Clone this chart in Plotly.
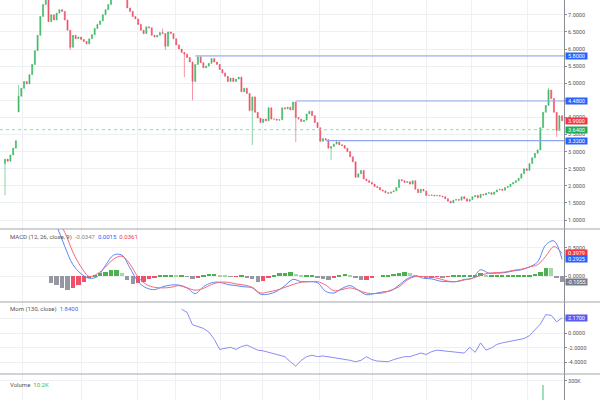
import plotly.graph_objects as go

# closes per bar (every bar ~2.7px)
closes = [
    2.78, 2.72, 2.90, 3.10, 3.32, 4.62, 4.85, 5.05, 4.98, 5.25,
    5.55, 5.95, 6.40, 6.95, 7.30, 7.60, 6.80, 7.00, 6.85, 7.05,
    7.15, 7.10, 6.85, 6.55, 6.05, 6.40, 6.30, 6.35, 6.28, 6.22,
    6.15, 6.30, 6.42, 6.60, 6.72, 6.82, 7.00, 7.15, 7.30, 7.50,
    7.60, 7.65, 7.60, 7.62, 7.55, 7.20, 7.10, 6.95, 6.88, 6.72,
    6.55, 6.45, 6.65, 6.62, 6.40, 6.35, 6.40, 6.48, 6.45, 6.08,
    6.50, 6.45, 6.30, 6.12, 6.00, 5.90, 5.85, 5.75, 5.62, 5.05,
    5.55, 5.78, 5.60, 5.45, 5.50, 5.58, 5.72, 5.62, 5.55, 5.40,
    5.30, 5.20, 5.05, 5.15, 5.05, 5.12, 5.18, 4.75, 4.85, 4.70,
    4.20, 4.60, 4.15, 3.98, 3.85, 3.95, 3.90, 4.28, 3.95, 3.95,
    3.92, 3.93, 4.28, 4.25, 4.30, 4.22, 4.45, 4.00, 3.95, 3.88,
    3.92, 4.10, 4.18, 4.05, 3.85, 3.70, 3.30, 3.38, 3.35, 3.10,
    3.15, 3.22, 3.28, 3.20, 3.18, 3.10, 3.00, 2.85, 2.70, 2.25,
    2.35, 2.45, 2.20, 2.15, 2.10, 2.05, 1.98, 1.95, 1.88, 1.85,
    1.80, 1.78, 1.82, 1.85, 1.95, 2.18, 2.15, 2.10, 2.12, 2.05,
    2.15, 1.90, 1.80, 1.90, 1.85, 1.72, 1.72, 1.73, 1.71, 1.72,
    1.70, 1.68, 1.62, 1.55, 1.50, 1.58, 1.60, 1.58, 1.68, 1.62,
    1.55, 1.60, 1.68, 1.72, 1.65, 1.75, 1.73, 1.78, 1.80, 1.75,
    1.82, 1.88, 1.90, 1.87, 1.95, 1.98, 2.05, 2.10, 2.15, 2.22,
    2.35, 2.50, 2.45, 2.65, 2.82, 2.95, 3.05, 3.70, 4.15, 4.35,
    4.80, 4.55, 4.15, 3.62, 4.05, 3.90,
]
first_open = 2.65
gap_opens = {5: 4.16}
wick_lows = {0: 1.72, 24: 5.97, 59: 5.97, 66: 5.18, 69: 4.50, 91: 3.19,
             107: 3.28, 120: 2.75, 203: 3.43}
wick_highs = {5: 4.95, 58: 6.60, 122: 3.35, 200: 4.86}

# drawn levels and price labels
levels = [5.80, 4.48, 3.32]
level_start = [70, 107, 118]
prev_close = 3.64
last_close = 3.90

# MACD (every 3rd bar, ending on the last bar)
macd_line = [
    1.18, 0.89, 0.52, 0.20, 0.04, -0.04, -0.01, 0.19,
    0.37, 0.37, 0.14, -0.10, -0.21, -0.24, -0.19, -0.16,
    -0.16, -0.21, -0.31, -0.19, -0.12, -0.11, -0.15, -0.17,
    -0.19, -0.21, -0.32, -0.32, -0.27, -0.17, -0.06, -0.10,
    -0.10, -0.12, -0.27, -0.30, -0.22, -0.17, -0.25, -0.33,
    -0.31, -0.28, -0.26, -0.16, -0.05, 0.00, -0.04, -0.05,
    -0.09, -0.10, -0.10, -0.06, -0.04, 0.11, 0.05, 0.05,
    0.06, 0.09, 0.11, 0.16, 0.25, 0.55, 0.62, 0.2925,
]
signal_line = [
    1.24, 1.01, 0.77, 0.42, 0.16, -0.01, 0.04, 0.16,
    0.30, 0.35, 0.21, -0.02, -0.15, -0.20, -0.21, -0.20,
    -0.17, -0.21, -0.25, -0.22, -0.15, -0.11, -0.11, -0.14,
    -0.16, -0.20, -0.30, -0.28, -0.25, -0.20, -0.15, -0.11,
    -0.10, -0.10, -0.16, -0.26, -0.24, -0.21, -0.25, -0.30,
    -0.31, -0.30, -0.25, -0.19, -0.07, -0.01, -0.01, -0.02,
    -0.05, -0.09, -0.10, -0.07, -0.04, 0.01, 0.05, 0.06,
    0.07, 0.10, 0.12, 0.16, 0.20, 0.35, 0.52, 0.3979,
]
# histogram (every 2nd bar)
hist = [
    -0.12, -0.15, -0.21, -0.25, -0.22, -0.16, -0.10, -0.04, 0.02, 0.05,
    0.07, 0.10, 0.11, 0.05, -0.07, -0.14, -0.12, -0.10, -0.05, -0.02,
    0.01, 0.02, 0.02, 0.01, 0.01, -0.01, -0.05, -0.02, 0.02, 0.04,
    0.04, 0.02, 0.01, -0.01, -0.01, 0.01, -0.04, -0.06, -0.10, -0.09,
    -0.04, 0.02, 0.05, 0.06, 0.07, 0.04, 0.01, 0.01, 0.01, -0.02,
    -0.06, -0.07, -0.04, 0.02, 0.04, 0.02, -0.04, -0.07, -0.07, -0.02,
    0.00, 0.01, 0.01, 0.04, 0.05, 0.07, 0.06, 0.02, -0.01, -0.02,
    -0.02, -0.01, -0.02, -0.01, 0.01, 0.01, 0.01, 0.02, 0.02, 0.05,
    0.01, 0.01, 0.01, 0.01, 0.02, 0.02, 0.02, 0.02, 0.02, 0.04,
    0.07, 0.15, 0.14, -0.04, -0.1055,
]

# Momentum (every 2nd bar)
mom = [
    3.35, 2.90, 1.20, 0.90, 0.70, 0.20, -0.80, -2.20, -2.00, -1.90,
    -2.20, -1.80, -1.60, -2.00, -2.30, -2.40, -2.60, -2.80, -3.00, -3.20,
    -3.90, -4.50, -3.70, -3.20, -3.00, -3.20, -3.10, -3.20, -3.30, -3.40,
    -3.50, -3.70, -3.90, -3.70, -3.20, -3.60, -3.80, -3.90, -3.90, -3.60,
    -3.40, -3.20, -3.20, -3.00, -2.70, -2.90, -2.50, -2.30, -2.40, -2.50,
    -2.60, -2.70, -2.70, -1.90, -2.60, -1.30, -2.30, -2.00, -1.50, -1.30,
    -1.15, -1.00, -0.90, -0.70, -0.30, 0.50, 1.30, 2.60, 2.50, 1.60,
    2.17,
]

vol_idx = [198]
vol = [277000]

GREEN = "#3fb865"
RED = "#f0506a"
FONT = "Roboto"

n = len(closes)
last = n - 1
xs = list(range(n))
opens = [first_open] + closes[:-1]
for i, v in gap_opens.items():
    opens[i] = v
highs = [max(o, c, wick_highs.get(i, 0)) for i, (o, c) in enumerate(zip(opens, closes))]
lows = [min(o, c, wick_lows.get(i, 99)) for i, (o, c) in enumerate(zip(opens, closes))]


def idx_from_end(vals, step):
    return [last - step * (len(vals) - 1 - k) for k in range(len(vals))]


macd_x = idx_from_end(macd_line, 3)
hist_x = idx_from_end(hist, 2)
mom_x = idx_from_end(mom, 2)

hist_colors = []
for k, v in enumerate(hist):
    prev = hist[k - 1] if k else 0
    if v >= 0:
        hist_colors.append("#4caf50" if v >= prev else "#9fd9a6")
    else:
        hist_colors.append("#9598a1" if v < prev else "#f0506a")

fig = go.Figure()
fig.add_trace(go.Candlestick(
    x=xs, open=opens, high=highs, low=lows, close=closes,
    increasing=dict(line=dict(color=GREEN, width=0.6), fillcolor=GREEN),
    decreasing=dict(line=dict(color=RED, width=0.6), fillcolor=RED),
    whiskerwidth=0, hoverinfo="skip", xaxis="x", yaxis="y",
))
fig.add_trace(go.Bar(x=hist_x, y=hist, marker_color=hist_colors, width=1.6,
                     marker_line_width=0, xaxis="x2", yaxis="y2"))
fig.add_trace(go.Scatter(x=macd_x, y=macd_line, mode="lines", line=dict(color="#5b86f5", width=1, shape="spline"),
                         xaxis="x2", yaxis="y2"))
fig.add_trace(go.Scatter(x=macd_x, y=signal_line, mode="lines", line=dict(color="#f5687a", width=1, shape="spline"),
                         xaxis="x2", yaxis="y2"))
fig.add_trace(go.Scatter(x=mom_x, y=mom, mode="lines", line=dict(color="#8c8cf5", width=1),
                         xaxis="x3", yaxis="y3"))
fig.add_trace(go.Bar(x=vol_idx, y=vol, marker_color="#9fe0b4", width=0.6, marker_line_width=0,
                     xaxis="x4", yaxis="y4"))

xrange = [-1.84, last + 0.7]
grid_idx = [6.6, 28.3, 48.9, 62.9, 79.4, 94.9, 115.8, 135.3, 155.1, 171.7, 192.3]
grid = "#eef0f4"
tickfont = dict(family=FONT, size=5.5, color="#555")


def xax(anchor, **kw):
    d = dict(domain=[0, 1], anchor=anchor, range=xrange, tickvals=grid_idx, showticklabels=False,
             showgrid=True, gridcolor=grid, zeroline=False, ticks="", fixedrange=True)
    d.update(kw)
    return d


def yax(domain, rng, tickvals, ticktext, anchor):
    return dict(domain=domain, range=rng, side="right", anchor=anchor, tickvals=tickvals, ticktext=ticktext,
                showgrid=True, gridcolor=grid, zeroline=False, showline=True, linecolor="#8a8d96",
                linewidth=1, ticks="outside", ticklen=2, tickcolor="#8a8d96", tickfont=tickfont,
                fixedrange=True)


price_ticks = [1 + 0.5 * k for k in range(13)]
# 4.5000 sits fully under the 4.4800 tag in the reference
price_text = ["" if v == 4.5 else f"{v:.4f}" for v in price_ticks]

shapes = []
for lv, st in zip(levels, level_start):
    shapes.append(dict(type="line", xref="x", yref="y", x0=st, x1=xrange[1], y0=lv, y1=lv,
                       line=dict(color="#8ea6f2" if lv < 5 else "#b3c5f6", width=1.2 if lv < 5 else 1.8)))
shapes.append(dict(type="line", xref="x", yref="y", x0=xrange[0], x1=xrange[1], y0=prev_close, y1=prev_close,
                   line=dict(color="#8fdba6", width=1, dash="dot")))
for yp in [0.4275, 0.245, 0.065]:
    shapes.append(dict(type="line", xref="paper", yref="paper", x0=0, x1=1.07, y0=yp, y1=yp,
                       line=dict(color="#a3a6ae", width=1.2)))

annotations = []


def price_tag(value, yref, color):
    annotations.append(dict(x=1, xref="paper", xanchor="left", xshift=1, y=value, yref=yref,
                            text=f"{value:.4f}", showarrow=False, bgcolor=color, width=21, height=6,
                            font=dict(family=FONT, size=5.5, color="white"), borderpad=0))


for lv in levels:
    price_tag(lv, "y", "#2962ff")
price_tag(last_close, "y", "#f23645")
price_tag(prev_close, "y", "#22ab5c")
price_tag(signal_line[-1], "y2", "#f23645")
price_tag(macd_line[-1], "y2", "#2962ff")
price_tag(hist[-1], "y2", "#787b86")
price_tag(mom[-1], "y3", "#5b5bf2")


def legend(ypix, text):
    annotations.append(dict(x=8 / 564, xref="paper", xanchor="left", y=1 - ypix / 400, yref="paper",
                            yanchor="middle", text=text, showarrow=False,
                            font=dict(family=FONT, size=6, color="#555")))


legend(237, "MACD (12, 26, close, 9)  <span style='color:#888'>-0.0347</span>  "
            "<span style='color:#2962ff'>0.0015</span>  <span style='color:#f23645'>0.0361</span>")
legend(309, "Mom (130, close)  <span style='color:#5b5bf2'>1.8400</span>")
legend(384, "Volume  <span style='color:#3fb865'>10.2K</span>")

fig.update_layout(
    width=600, height=400,
    margin=dict(l=0, r=36, t=0, b=0),
    paper_bgcolor="white", plot_bgcolor="white",
    showlegend=False, bargap=0, boxgap=0.45,
    xaxis=xax("y", rangeslider=dict(visible=False)),
    xaxis2=xax("y2", matches="x"),
    xaxis3=xax("y3", matches="x"),
    xaxis4=xax("y4", matches="x"),
    yaxis=yax([0.4275, 1], [0.737, 7.433], price_ticks, price_text, "x"),
    yaxis2=yax([0.245, 0.4275], [-0.459, 0.830], [0, 0.5], ["0.0000", "0.5000"], "x2"),
    yaxis3=yax([0.065, 0.245], [-5.59, 4.34], [-4, -2, 0, 2], ["-4.0000", "-2.0000", "0.0000", "2.0000"], "x3"),
    yaxis4=yax([0, 0.065], [191000, 340000], [300000], ["300K"], "x4"),
    shapes=shapes,
    annotations=annotations,
)

# page body has a default 8px margin; drop it so the chart sits at the window corner
fig.write_html("out.html", config={"displayModeBar": False},
               post_script="document.body.style.margin='0';document.body.style.overflow='hidden';")
